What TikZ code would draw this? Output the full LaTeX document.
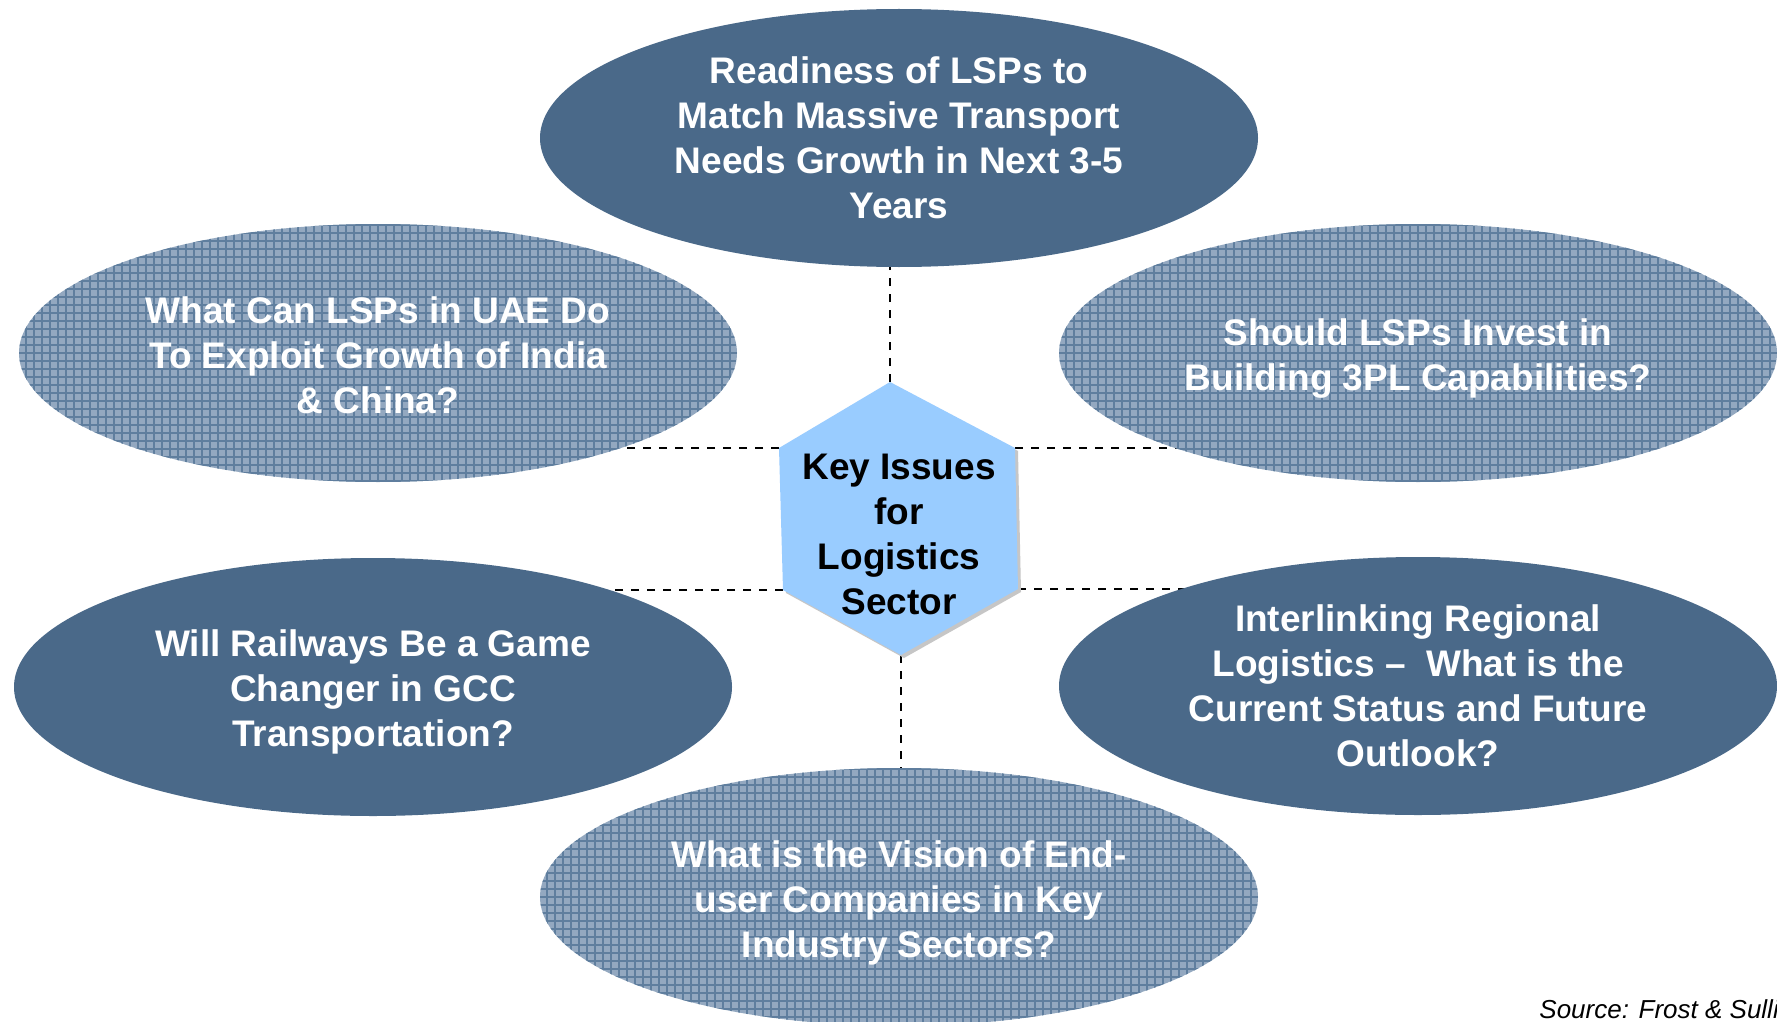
\documentclass[tikz,border=0pt]{standalone}
\usepackage{fontspec}
\setmainfont{Liberation Sans}
\usetikzlibrary{shapes.geometric,backgrounds}
\definecolor{darkblue}{HTML}{4A6989}
\definecolor{patfill}{HTML}{93A8C0}
\definecolor{patline}{HTML}{5F7E9E}
\definecolor{hexfill}{HTML}{99CCFF}
\begin{document}
\begin{tikzpicture}[x=0.5pt,y=-0.5pt,
  issue/.style={ellipse, minimum width=359pt, minimum height=129pt, inner sep=0pt},
  solid issue/.style={issue, fill=darkblue},
  hatched issue/.style={issue, fill=patfill,
    path picture={\draw[patline, line width=0.55pt, step=4pt]
      (path picture bounding box.south west) grid (path picture bounding box.north east);}},
  issuetext/.style={align=center, inner sep=0pt, text=white, font=\fontsize{18.5}{22.5}\selectfont\bfseries},
  link/.style={black, line width=0.7pt, dash pattern=on 4pt off 4pt},
  hexlabel/.style={align=center, text=black, font=\fontsize{18.5}{22.5}\selectfont\bfseries}]
\useasboundingbox (0,0) rectangle (1777,1022);

% issue ellipses
\node[solid issue] (top) at (899,138) {};
\node[hatched issue] (lu) at (378,353) {};
\node[hatched issue] (ru) at (1418,353) {};
\node[solid issue] (ll) at (373,687) {};
\node[solid issue] (rl) at (1418,686) {};
\node[hatched issue] (bot) at (899,897) {};

% issue texts
\node[issuetext] (top-t) at (top.center) {Readiness of LSPs to\\Match Massive Transport\\Needs Growth in Next 3-5\\Years};
\node[issuetext] (lu-t) at ([yshift=-1pt]lu.center) {What Can LSPs in UAE Do\\To Exploit Growth of India\\\& China?};
\node[issuetext] (ru-t) at ([yshift=-3pt]ru.center) {Should LSPs Invest in\\Building 3PL Capabilities?};
\node[issuetext] (ll-t) at ([yshift=-2.5pt]ll.center) {Will Railways Be a Game\\Changer in GCC\\Transportation?};
\node[issuetext] (rl-t) at (rl.center) {Interlinking Regional\\Logistics –\ \ What is the\\Current Status and Future\\Outlook?};
\node[issuetext] (bot-t) at ([yshift=-3pt]bot.center) {What is the Vision of End-\\user Companies in Key\\Industry Sectors?};

% central hexagon
\coordinate (h1) at (890,382);
\coordinate (h2) at (779,448);
\coordinate (h3) at (783,590);
\coordinate (h4) at (901,655);
\coordinate (h5) at (1018,589);
\coordinate (h6) at (1015,448);
\fill[gray!45] ([shift={(3,3)}]h1) -- ([shift={(3,3)}]h2) -- ([shift={(3,3)}]h3) -- ([shift={(3,3)}]h4) -- ([shift={(3,3)}]h5) -- ([shift={(3,3)}]h6) -- cycle;
\fill[hexfill] (h1) -- (h2) -- (h3) -- (h4) -- (h5) -- (h6) -- cycle;
\node[hexlabel] (hex) at (899,534) {Key Issues\\for\\Logistics\\Sector};

% source
\node[anchor=base west, inner sep=0pt, font=\fontsize{13}{15}\selectfont\itshape] (src) at (1539,1018) {Source: Frost \& Sullivan};

% connectors and background
\begin{scope}[on background layer]
\fill[white] (0,0) rectangle (1777,1022);
\draw[link] (h1) -- (h1 |- top.center);
\draw[link] (h4) -- (h4 |- bot.center);
\draw[link] (h2) -- (h2 -| lu.center);
\draw[link] (h6) -- (h6 -| ru.center);
\draw[link] (h3) -- (h3 -| ll.center);
\draw[link] (h5) -- (h5 -| rl.center);
\end{scope}
\end{tikzpicture}
\end{document}
